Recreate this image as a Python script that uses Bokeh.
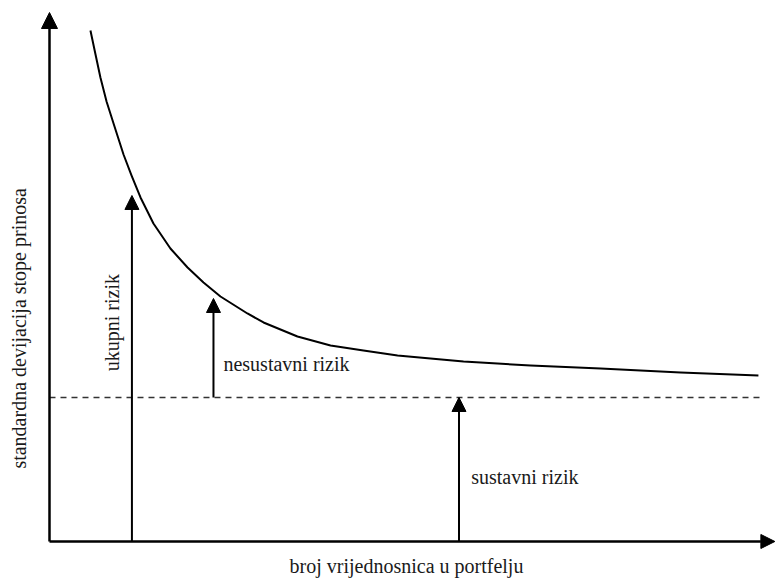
import math
from bokeh.plotting import figure
from bokeh.models import Range1d, Arrow, NormalHead, Label
from bokeh.embed import file_html
from bokeh.resources import INLINE

# ---- data (abstract units) ----
curve_x = [2.34, 2.63, 2.91, 3.26, 3.66, 4.23, 4.69, 5.2, 5.94, 6.91, 7.89, 8.8, 9.77,
           11.31, 12.23, 14.17, 16.06, 17.94, 19.89, 21.77, 23.66, 25.6, 27.49, 31.49,
           36.06, 40.51]
curve_y = [70.97, 67.64, 64.44, 61.11, 58.06, 53.75, 50.83, 47.78, 44.17, 40.69, 38.06,
           35.97, 34.03, 31.67, 30.42, 28.47, 27.22, 26.53, 25.83, 25.42, 25.0, 24.72,
           24.44, 24.03, 23.47, 23.06]

systematic_risk = 20.0
x_axis_end = 41.45
y_axis_end = 73.47
dash_end = 40.8

arrow_names = ["ukupni rizik", "nesustavni rizik", "sustavni rizik"]
arrow_x = [4.71, 9.37, 23.4]
arrow_y0 = [0.0, 20.0, 0.0]
arrow_y1 = [48.06, 33.75, 20.0]

FONT = "Liberation Serif"
TXT = "#1a1a1a"

p = figure(width=776, height=578, output_backend="svg", toolbar_location=None,
           x_range=Range1d(-2.8, 41.543), y_range=Range1d(-5.14, 75.14),
           x_axis_type=None, y_axis_type=None, min_border=0)
p.outline_line_color = None
p.grid.visible = False
p.background_fill_color = "white"
p.border_fill_color = "white"

# axes drawn as arrows
p.add_layout(Arrow(end=NormalHead(size=16, fill_color="black", line_color="black"),
                   x_start=0, y_start=0, x_end=0, y_end=y_axis_end,
                   line_width=2.5, line_color="black"))
p.add_layout(Arrow(end=NormalHead(size=14, fill_color="black", line_color="black"),
                   x_start=0, y_start=0, x_end=x_axis_end, y_end=0,
                   line_width=2.5, line_color="black"))

# systematic risk level
p.segment(x0=[0], y0=[systematic_risk], x1=[dash_end], y1=[systematic_risk],
          line_color="#333333", line_width=1.5, line_dash="6 5")

# total risk curve
p.line(curve_x, curve_y, line_color="black", line_width=2, line_join="round")

# risk arrows
for ax, a0, a1 in zip(arrow_x, arrow_y0, arrow_y1):
    p.add_layout(Arrow(end=NormalHead(size=14, fill_color="black", line_color="black"),
                       x_start=ax, y_start=a0, x_end=ax, y_end=a1,
                       line_width=2, line_color="black"))

# in-plot labels
p.add_layout(Label(x=3.6, y=30.4, text=arrow_names[0], angle=math.pi / 2,
                   text_align="center", text_baseline="middle",
                   text_font=FONT, text_font_size="20px", text_color=TXT))
p.add_layout(Label(x=9.94, y=24.6, text=arrow_names[1],
                   text_align="left", text_baseline="middle",
                   text_font=FONT, text_font_size="20px", text_color=TXT))
p.add_layout(Label(x=24.1, y=9.0, text=arrow_names[2],
                   text_align="left", text_baseline="middle",
                   text_font=FONT, text_font_size="20px", text_color=TXT))

# axis titles
p.add_layout(Label(x=-1.74, y=29.6, text="standardna devijacija stope prinosa",
                   angle=math.pi / 2, text_align="center", text_baseline="middle",
                   text_font=FONT, text_font_size="20px", text_color=TXT))
p.add_layout(Label(x=20.4, y=-3.47, text="broj vrijednosnica u portfelju",
                   text_align="center", text_baseline="middle",
                   text_font=FONT, text_font_size="20px", text_color=TXT))

open("out.html", "w").write(file_html(p, INLINE))
